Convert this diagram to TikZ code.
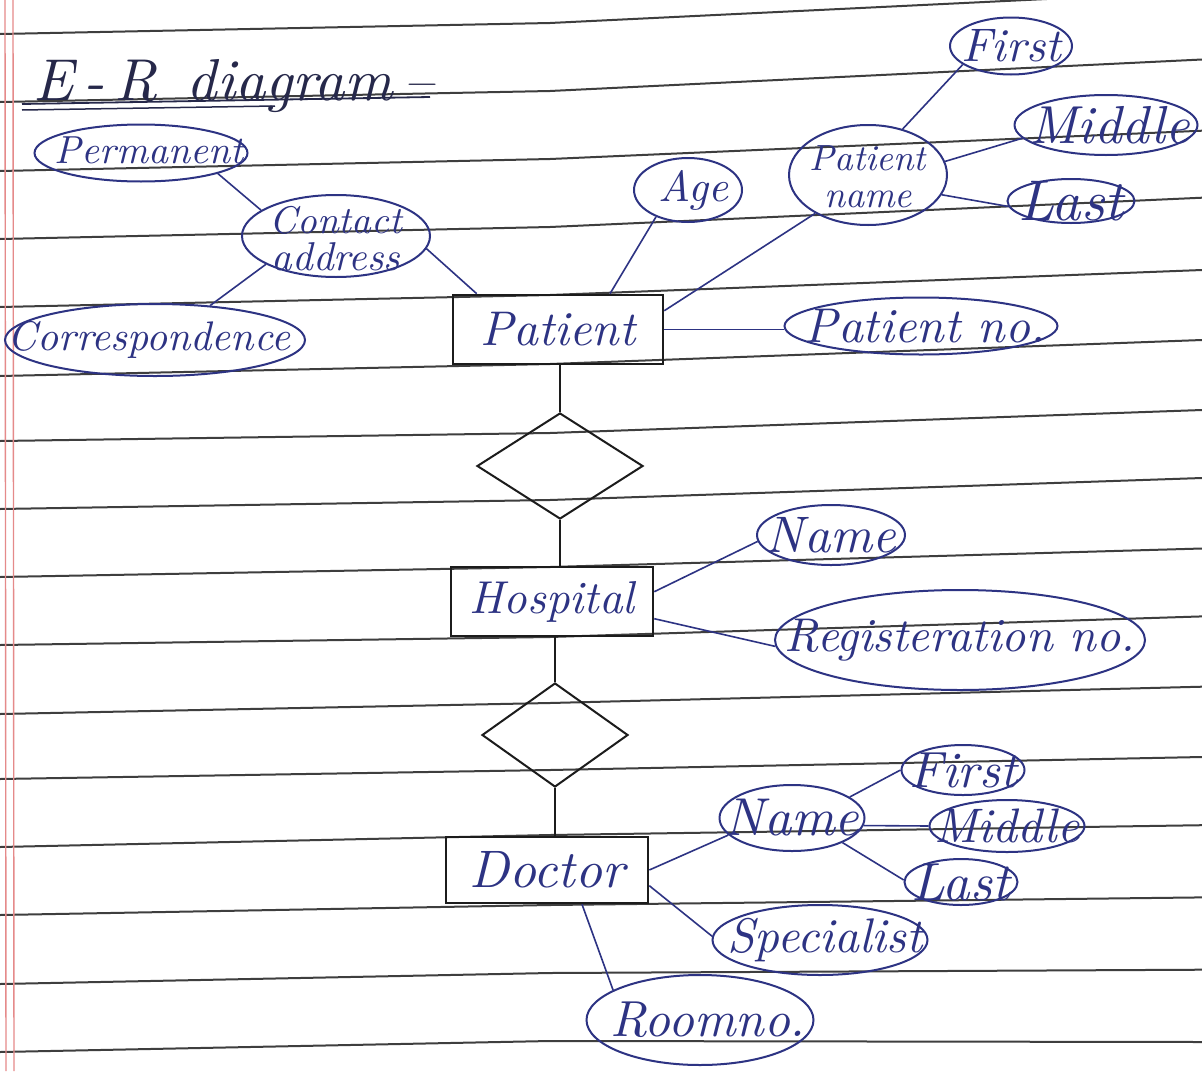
\documentclass[tikz,border=0pt]{standalone}
\usepackage{graphicx}
\usetikzlibrary{shapes.geometric}
\definecolor{ink}{HTML}{2D3383}
\definecolor{titlec}{HTML}{26284A}
\definecolor{pencil}{HTML}{1C1C1C}
\definecolor{rulec}{HTML}{3E3E3E}
\definecolor{marginc}{HTML}{E58A8A}
\newcommand{\fw}[2]{\resizebox{#1pt}{!}{#2}}
\begin{document}
\begin{tikzpicture}[x=1pt,y=-1pt,
  rulel/.style={rulec, line width=2pt},
  marginl/.style={marginc, line width=1.4pt},
  attr/.style={ellipse, draw=ink, line width=2pt, inner sep=0pt},
  lbl/.style={text=ink, font=\itshape, inner sep=0pt, align=center},
  lbltwo/.style={lbl, font=\itshape\fontsize{10}{37}\selectfont},
  entity/.style={rectangle, draw=pencil, line width=2.6pt, inner sep=0pt, text=ink, font=\itshape},
  rel/.style={diamond, draw=pencil, line width=2pt, inner sep=0pt},
  link/.style={draw=ink, line width=1.6pt},
  rlink/.style={draw=pencil, line width=2.2pt}]

\useasboundingbox (0,0) rectangle (1202,1071);
\fill[white] (0,0) rectangle (1202,1071);

% ruled notebook paper
\foreach \a/\b/\c in {34/23/-8.5, 102/91/59.5, 171/159/130.7, 239/227/197.7,
  307/295/270, 376/364/340, 441/433/410, 509/500/478, 577/567/548.5,
  645/637/616.4, 714/703/686.7, 779/770/757, 847/835/825.2, 915/905/897.4,
  984/973/969.7, 1052/1041/1042}
  \draw[rulel] (0,\a) -- (550,\b) -- (1202,\c);
\draw[marginl] (5,0) -- (6,1071);
\draw[marginl] (13,0) -- (14,1071);

% title
\node[lbl, text=titlec, anchor=base west] (title) at (33,100) {\fw{400}{E\,-\,R\enspace diagram\,--}};
\draw[titlec, line width=1.8pt] (22,104) -- (430,97);
\draw[titlec, line width=1.5pt] (22,110) -- (275,106);

% entities
\node[entity, minimum width=210pt, minimum height=69pt] (patient) at (558,329.5) {\fw{155}{Patient}};
\node[entity, minimum width=202pt, minimum height=69pt] (hosp) at (552,601.5) {\fw{165}{Hospital}};
\node[entity, minimum width=202pt, minimum height=66pt] (doc) at (547,870) {\fw{155}{Doctor}};

% relationships
\node[rel, minimum width=166pt, minimum height=106pt] (d1) at (560,466) {};
\node[rel, minimum width=146pt, minimum height=104pt] (d2) at (555,735) {};

% patient attributes
\node[attr, minimum width=213pt, minimum height=57pt,
  label={[lbl,xshift=8pt,yshift=3pt]center:\fw{188}{Permanent}}] (perm) at (141,153) {};
\node[attr, minimum width=188pt, minimum height=82pt,
  label={[lbltwo,yshift=-3pt]center:\fw{132}{Contact}\\\fw{128}{address}}] (contact) at (336,236) {};
\node[attr, minimum width=300pt, minimum height=72pt,
  label={[lbl,xshift=-6pt]center:\fw{282}{Correspondence}}] (corr) at (155,340) {};
\node[attr, minimum width=108pt, minimum height=64pt,
  label={[lbl,xshift=5pt]center:\fw{70}{Age}}] (age) at (688,190) {};
\node[attr, minimum width=158pt, minimum height=100pt,
  label={[lbltwo,yshift=-2pt]center:\fw{116}{Patient}\\\fw{88}{name}}] (pname) at (868,175) {};
\node[attr, minimum width=122pt, minimum height=57pt,
  label={[lbl]center:\fw{100}{First}}] (pfirst) at (1011,46) {};
\node[attr, minimum width=183pt, minimum height=60pt,
  label={[lbl,xshift=4pt]center:\fw{160}{Middle}}] (pmid) at (1106,125) {};
\node[attr, minimum width=127pt, minimum height=44pt,
  label={[lbl]center:\fw{105}{Last}}] (plast) at (1071,201) {};
\node[attr, minimum width=273pt, minimum height=57pt,
  label={[lbl,xshift=4pt]center:\fw{240}{Patient no.}}] (pno) at (921,326) {};

% hospital attributes
\node[attr, minimum width=148pt, minimum height=60pt,
  label={[lbl]center:\fw{130}{Name}}] (hname) at (831,535) {};
\node[attr, minimum width=370pt, minimum height=100pt,
  label={[lbl]center:\fw{350}{Registeration no.}}] (hreg) at (960,640) {};

% doctor attributes
\node[attr, minimum width=145pt, minimum height=66pt,
  label={[lbl]center:\fw{135}{Name}}] (dname) at (792,818) {};
\node[attr, minimum width=123pt, minimum height=50pt,
  label={[lbl]center:\fw{108}{First}}] (dfirst) at (963,770) {};
\node[attr, minimum width=155pt, minimum height=52pt,
  label={[lbl]center:\fw{145}{Middle}}] (dmid) at (1007,826) {};
\node[attr, minimum width=113pt, minimum height=46pt,
  label={[lbl]center:\fw{98}{Last}}] (dlast) at (961,882) {};
\node[attr, minimum width=215pt, minimum height=70pt,
  label={[lbl,xshift=5pt]center:\fw{195}{Specialist}}] (spec) at (820,940) {};
\node[attr, minimum width=227pt, minimum height=90pt,
  label={[lbl,xshift=8pt]center:\fw{195}{Roomno.}}] (room) at (700,1020) {};

% connectors
\draw[link] (perm.-15) -- (contact.161);
\draw[link] (corr.32) -- (contact.202);
\draw[link] (contact.-8) -- ([xshift=25pt]patient.north west);
\draw[link] (age.220) -- ([xshift=52pt]patient.north);
\draw[link] (pname.216) -- ([yshift=-17pt]patient.north east);
\draw[link] (patient.east) -- (patient.east -| pno.west);
\draw[link] (pname.53) -- (pfirst.201);
\draw[link] (pname.10) -- (pmid.189);
\draw[link] (pname.-15) -- (plast.185);
\draw[rlink] (d1.north |- patient.south) -- (d1.north);
\draw[rlink] (d1.south) -- (d1.south |- hosp.north);
\draw[link] ([yshift=-26pt]hosp.north east) -- (hname.185);
\draw[link] ([yshift=-53pt]hosp.north east) -- (hreg.182);
\draw[rlink] (d2.north |- hosp.south) -- (d2.north);
\draw[rlink] (d2.south) -- (d2.south |- doc.north);
\draw[link] (doc.east) -- (dname.195);
\draw[link] (dname.20) -- (dfirst.180);
\draw[link] (dname.-6) -- (dmid.180);
\draw[link] (dname.-26) -- (dlast.178);
\draw[link] ([yshift=-50pt]doc.north east) -- (spec.178);
\draw[link] ([xshift=35pt]doc.south) -- (room.161);
\end{tikzpicture}
\end{document}
